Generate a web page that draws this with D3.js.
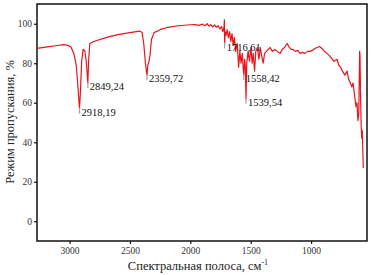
<!DOCTYPE html>
<html>
<head>
<meta charset="utf-8">
<script src="https://cdn.jsdelivr.net/npm/d3@7"></script>
<style>
  body { margin: 0; background: #fff; }
  svg { display: block; font-family: "Liberation Serif", "DejaVu Serif", serif; }
</style>
</head>
<body>
<script>
const width = 372;
const height = 275;
const margin = { top: 4, right: 5, bottom: 34, left: 37 };

// spectrum: wavenumber (cm-1) and transmittance (%)
const wavenumbers = [
  3270, 3200, 3100, 3050, 3020, 2990, 2965, 2945, 2932, 2918, 2910, 2900, 2888, 2875, 2862, 2849, 2842, 2832,
  2800, 2700, 2600, 2500, 2420, 2400, 2386, 2372, 2359, 2352, 2344, 2334, 2322, 2300, 2250, 2200, 2100, 2000,
  1960, 1930, 1900, 1880, 1860, 1845, 1830, 1815, 1800, 1785, 1770, 1755, 1742, 1730, 1722, 1718, 1716, 1712,
  1705, 1695, 1685, 1675, 1665, 1655, 1645, 1635, 1625, 1612, 1600, 1590, 1580, 1570, 1558, 1550, 1545, 1539,
  1533, 1522, 1510, 1498, 1488, 1479, 1468, 1458, 1445, 1432, 1421, 1410, 1397, 1385, 1370, 1355, 1339, 1320,
  1300, 1280, 1256, 1240, 1220, 1198, 1180, 1165, 1149, 1130, 1110, 1091, 1070, 1050, 1030, 1008, 990, 970, 950,
  930, 910, 890, 868, 850, 830, 810, 785, 770, 755, 740, 720, 702, 690, 675, 662, 653, 640, 628, 620, 612, 605,
  598, 595, 590, 585, 580, 576, 572, 568
];
const transmittance = [
  87.5, 88.2, 89.0, 89.4, 89.2, 88.3, 85, 79, 69, 57, 66, 81, 87, 86.5, 81, 70, 82, 90,
  91, 93, 94.5, 95.5, 96.3, 95.6, 90, 80, 74, 79, 80.5, 84, 92, 95.5, 97, 98, 99, 99.5,
  99.6, 99.2, 99.8, 99.0, 100, 98.8, 99.6, 98.4, 99.4, 98.2, 99, 97.4, 98.6, 96, 98, 102, 90, 96,
  94, 97, 93, 96, 91, 95, 89, 93, 86, 90, 78, 86, 80, 85, 74, 82, 79, 62,
  80, 86, 81, 88, 80, 85, 76, 86, 88, 82, 88, 84, 80, 85, 86, 87, 88, 86,
  87, 86, 85, 87, 88, 90, 88, 87, 87, 86, 86.5, 85, 85.5, 85, 86, 86, 86.5, 87.5, 88,
  88.5, 87.5, 86, 85, 84, 82.5, 81, 82, 79, 78, 76, 74, 76, 72, 70, 68, 70, 64, 58, 60, 51, 55,
  86, 84, 62, 48, 42, 46, 36, 27
];

const peakLabels = ["2918,19", "2849,24", "2359,72", "1716,61", "1558,42", "1539,54"];
const peakX = [2918, 2849, 2359, 1716, 1558, 1539];
const peakY = [57, 70, 74, 90, 74, 62];

const yTicks = [0, 20, 40, 60, 80, 100];
const xTicks = [3000, 2500, 2000, 1500, 1000];

const svg = d3.select('body')
  .append('svg')
  .attr('width', width)
  .attr('height', height);

const x = d3.scaleLinear()
  .domain([3270, 537])
  .range([margin.left, width - margin.right]);
const y = d3.scaleLinear()
  .domain([-10, 110])
  .range([height - margin.bottom, margin.top]);

// frame
svg.append('rect')
  .attr('x', margin.left)
  .attr('y', margin.top)
  .attr('width', width - margin.left - margin.right)
  .attr('height', height - margin.top - margin.bottom)
  .attr('fill', 'none')
  .attr('stroke', '#111')
  .attr('stroke-width', 1.5);

const xAxis = svg.append('g')
  .attr('transform', `translate(0,${height - margin.bottom})`)
  .call(d3.axisBottom(x).tickValues(xTicks).tickFormat(d3.format('d')).tickSize(3).tickPadding(3));
const yAxis = svg.append('g')
  .attr('transform', `translate(${margin.left},0)`)
  .call(d3.axisLeft(y).tickValues(yTicks).tickFormat(d3.format('d')).tickSize(3).tickPadding(2));

[xAxis, yAxis].forEach(g => {
  g.select('.domain').remove();
  g.selectAll('.tick line').attr('stroke', '#111').attr('stroke-width', 1.2);
  g.selectAll('.tick text')
    .attr('fill', '#333')
    .attr('font-size', 9.5)
    .attr('font-family', '"Liberation Serif", serif');
});

const data = wavenumbers.map((w, i) => ({ w, t: transmittance[i] }));

const line = d3.line()
  .x(d => x(d.w))
  .y(d => y(d.t));

svg.append('path')
  .datum(data)
  .attr('fill', 'none')
  .attr('stroke', '#e8141c')
  .attr('stroke-width', 1.2)
  .attr('stroke-linejoin', 'round')
  .attr('d', line);

// peak markers and labels
const peaks = peakLabels.map((l, i) => ({ l, w: peakX[i], t: peakY[i] }));
svg.selectAll('.pk')
  .data(peaks)
  .join('line')
    .attr('x1', d => x(d.w))
    .attr('x2', d => x(d.w))
    .attr('y1', d => y(d.t) - 1)
    .attr('y2', d => y(d.t) + 5)
    .attr('stroke', '#9aa4ad')
    .attr('stroke-width', 1.2);
svg.selectAll('.pl')
  .data(peaks)
  .join('text')
    .attr('x', d => x(d.w) + 2)
    .attr('y', d => y(d.t) + 7)
    .attr('font-size', 10.5)
    .attr('fill', '#111')
    .text(d => d.l);

// axis titles
const xt = svg.append('text')
  .attr('x', 198)
  .attr('y', 270)
  .attr('text-anchor', 'middle')
  .attr('font-size', 12.5)
  .attr('fill', '#222');
xt.append('tspan').text('Спектральная полоса, см');
xt.append('tspan').attr('dy', -5).attr('font-size', 8).text('-1');

svg.append('text')
  .attr('transform', 'translate(14,122) rotate(-90)')
  .attr('text-anchor', 'middle')
  .attr('font-size', 12.5)
  .attr('fill', '#222')
  .text('Режим пропускания, %');
</script>
</body>
</html>
